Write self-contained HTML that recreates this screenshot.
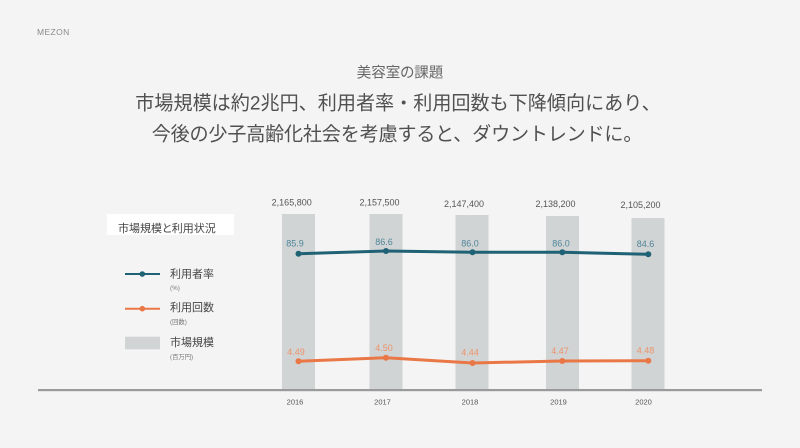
<!DOCTYPE html>
<html><head><meta charset="utf-8">
<style>
html,body{margin:0;padding:0;background:#f4f4f4;}
svg{display:block;}
.jp{font-family:"Liberation Sans","Noto Sans CJK JP",sans-serif;font-feature-settings:"palt";}
.jt{font-family:"Liberation Sans","Noto Sans CJK JP",sans-serif;}
.num{font-family:"Liberation Sans",sans-serif;}
</style></head>
<body>
<svg width="800" height="448" viewBox="0 0 800 448" xmlns="http://www.w3.org/2000/svg">
<rect width="800" height="448" fill="#f4f4f4"/>
<text x="37" y="35" class="num" font-size="8.5" fill="#8a8a8a" letter-spacing="0.4">MEZON</text>
<text x="400" y="77.5" class="jp" font-size="14.5" fill="#666" text-anchor="middle">美容室の課題</text>
<text x="398" y="109.5" class="jt" font-size="19.1" fill="#505050" text-anchor="middle">市場規模は約2兆円、利用者率・利用回数も下降傾向にあり、</text>
<text x="397" y="140.5" class="jt" font-size="19.1" fill="#505050" text-anchor="middle" letter-spacing="-0.2">今後の少子高齢化社会を考慮すると、ダウントレンドに。</text>

<!-- bars -->
<g fill="#d1d4d5">
<rect x="282" y="214" width="33" height="176"/>
<rect x="369.5" y="214" width="33" height="176"/>
<rect x="455.5" y="215" width="33" height="175"/>
<rect x="546" y="216" width="33" height="174"/>
<rect x="631.5" y="218" width="33" height="172"/>
</g>
<!-- axis -->
<rect x="38" y="389" width="724" height="2.2" fill="#9a9a9a"/>

<!-- bar value labels -->
<g class="num" font-size="9" fill="#555" text-anchor="middle">
<text x="291.7" y="205.3">2,165,800</text>
<text x="379.5" y="205.3">2,157,500</text>
<text x="464" y="207.2">2,147,400</text>
<text x="555.5" y="207.2">2,138,200</text>
<text x="640.5" y="208.2">2,105,200</text>
</g>
<!-- years -->
<g class="num" font-size="7.5" fill="#555" text-anchor="middle">
<text x="295" y="404.7">2016</text>
<text x="382.5" y="404.7">2017</text>
<text x="470" y="404.7">2018</text>
<text x="558.5" y="404.7">2019</text>
<text x="643.5" y="404.7">2020</text>
</g>

<!-- teal line -->
<polyline points="298.5,253.7 386,251 472.5,252.3 562.3,252.3 648.3,254.3" fill="none" stroke="#1f6275" stroke-width="3" stroke-linejoin="round" stroke-linecap="round"/>
<g fill="#1f6275">
<circle cx="298.5" cy="253.7" r="3"/><circle cx="386" cy="251" r="3"/><circle cx="472.5" cy="252.3" r="3"/><circle cx="562.3" cy="252.3" r="3"/><circle cx="648.3" cy="254.3" r="3"/>
</g>
<g class="num" font-size="9" fill="#4f8599" text-anchor="middle">
<text x="295" y="246.3">85.9</text>
<text x="384" y="244.9">86.6</text>
<text x="470" y="246.3">86.0</text>
<text x="561" y="246.3">86.0</text>
<text x="645.5" y="247.2">84.6</text>
</g>

<!-- orange line -->
<polyline points="298.5,361.3 386,357.7 472.5,363 562.3,361 648.3,360.7" fill="none" stroke="#ea7746" stroke-width="3" stroke-linejoin="round" stroke-linecap="round"/>
<g fill="#ea7746">
<circle cx="298.5" cy="361.3" r="3"/><circle cx="386" cy="357.7" r="3"/><circle cx="472.5" cy="363" r="3"/><circle cx="562.3" cy="361" r="3"/><circle cx="648.3" cy="360.7" r="3"/>
</g>
<g class="num" font-size="9" fill="#ec936a" text-anchor="middle">
<text x="296" y="354.9">4.49</text>
<text x="384" y="350.9">4.50</text>
<text x="470" y="355.5">4.44</text>
<text x="560" y="354.2">4.47</text>
<text x="645.5" y="353.5">4.48</text>
</g>

<!-- legend -->
<rect x="107" y="214" width="127" height="21" fill="#ffffff"/>
<text x="118" y="231.8" class="jp" font-size="11" fill="#444">市場規模と利用状況</text>

<line x1="125" y1="274" x2="160" y2="274" stroke="#1f6275" stroke-width="2"/>
<circle cx="142.3" cy="274" r="2.8" fill="#1f6275"/>
<text x="170" y="277.5" class="jp" font-size="11" fill="#444">利用者率</text>
<text x="170" y="289.8" class="jp" font-size="6.3" fill="#777">(%)</text>

<line x1="125" y1="308.7" x2="160" y2="308.7" stroke="#ea7746" stroke-width="2"/>
<circle cx="142.3" cy="308.7" r="2.8" fill="#ea7746"/>
<text x="170" y="310.9" class="jp" font-size="11" fill="#444">利用回数</text>
<text x="170" y="323.8" class="jp" font-size="6.3" fill="#777">(回数)</text>

<rect x="125" y="336.7" width="35" height="12.6" fill="#d1d4d5"/>
<text x="170" y="345.9" class="jp" font-size="11" fill="#444">市場規模</text>
<text x="170" y="359.2" class="jp" font-size="6.3" fill="#777">(百万円)</text>
</svg>
</body></html>
